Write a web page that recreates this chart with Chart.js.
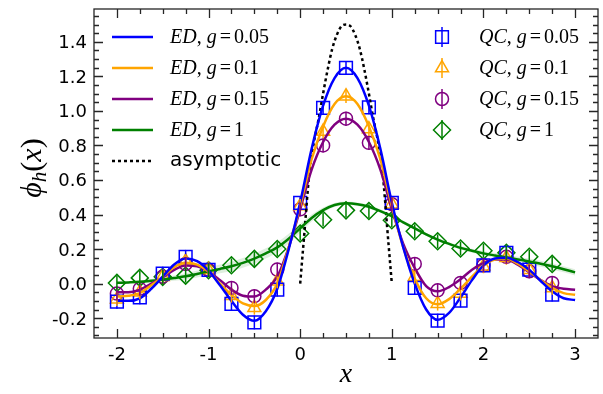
<!DOCTYPE html>
<html>
<head>
<meta charset="utf-8">
<script src="https://cdn.jsdelivr.net/npm/chart.js@4/dist/chart.umd.min.js"></script>
<style>
  html, body { margin: 0; padding: 0; background: #fff; }
  #wrap { width: 603px; height: 394px; }
</style>
</head>
<body>
<div id="wrap"><canvas id="chart" width="603" height="394"></canvas></div>
<script>
// axis ticks
var xTicks = [-2, -1, 0, 1, 2, 3];
var yTicks = [-0.2, 0, 0.2, 0.4, 0.6, 0.8, 1.0, 1.2, 1.4];

// ED curves (sampled every 0.125 from -2 to 3)
var edX = [-2, -1.875, -1.75, -1.625, -1.5, -1.375, -1.25, -1.125, -1, -0.875, -0.75, -0.625, -0.5, -0.375, -0.25, -0.125,
  0, 0.125, 0.25, 0.375, 0.5, 0.625, 0.75, 0.875, 1, 1.125, 1.25, 1.375, 1.5, 1.625, 1.75, 1.875,
  2, 2.125, 2.25, 2.375, 2.5, 2.625, 2.75, 2.875, 3];
var edG005 = [-0.10, -0.10, -0.085, -0.03, 0.04, 0.11, 0.145, 0.13, 0.075, -0.01, -0.10, -0.18, -0.215, -0.16, -0.03, 0.20,
  0.47, 0.78, 1.03, 1.19, 1.25, 1.19, 1.03, 0.78, 0.47, 0.21, 0.0, -0.15, -0.21, -0.17, -0.08, 0.02,
  0.105, 0.145, 0.15, 0.125, 0.08, 0.015, -0.045, -0.085, -0.095];
var edG01 = [-0.075, -0.07, -0.055, -0.01, 0.04, 0.095, 0.12, 0.11, 0.07, 0.0, -0.065, -0.115, -0.13, -0.095, 0.0, 0.21,
  0.45, 0.72, 0.91, 1.04, 1.085, 1.04, 0.91, 0.72, 0.45, 0.21, 0.03, -0.085, -0.12, -0.09, -0.03, 0.04,
  0.105, 0.14, 0.145, 0.115, 0.07, 0.02, -0.025, -0.055, -0.065];
var edG015 = [-0.05, -0.05, -0.035, 0.0, 0.035, 0.08, 0.105, 0.10, 0.07, 0.02, -0.035, -0.07, -0.075, -0.035, 0.04, 0.21,
  0.43, 0.66, 0.82, 0.92, 0.955, 0.92, 0.82, 0.66, 0.43, 0.23, 0.09, -0.015, -0.045, -0.02, 0.025, 0.08,
  0.12, 0.14, 0.14, 0.11, 0.065, 0.02, -0.015, -0.03, -0.035];
var edG1 = [0.005, 0.007, 0.01, 0.016, 0.023, 0.032, 0.042, 0.056, 0.071, 0.085, 0.10, 0.12, 0.145, 0.175, 0.21, 0.26,
  0.32, 0.38, 0.425, 0.455, 0.465, 0.46, 0.445, 0.42, 0.39, 0.355, 0.32, 0.285, 0.255, 0.23, 0.207, 0.19,
  0.175, 0.163, 0.152, 0.14, 0.128, 0.115, 0.10, 0.083, 0.065];
// half width of the pale band around the g=1 curve
var edG1Band = [0.005, 0.005, 0.008, 0.01, 0.012, 0.015, 0.018, 0.02, 0.022, 0.025, 0.027, 0.028, 0.03, 0.03, 0.03, 0.028,
  0.025, 0.02, 0.015, 0.012, 0.01, 0.01, 0.01, 0.01, 0.01, 0.01, 0.01, 0.01, 0.01, 0.01, 0.01, 0.012,
  0.012, 0.014, 0.015, 0.016, 0.017, 0.018, 0.018, 0.018, 0.018];

// asymptotic curve
var asyX = [0, 0.025, 0.05, 0.075, 0.1, 0.15, 0.2, 0.25, 0.3, 0.35, 0.4, 0.45, 0.5,
  0.55, 0.6, 0.65, 0.7, 0.75, 0.8, 0.85, 0.9, 0.925, 0.95, 0.975, 1];
var asyY = [0, 0.16, 0.32, 0.49, 0.64, 0.82, 0.95, 1.10, 1.24, 1.36, 1.44, 1.49, 1.50,
  1.49, 1.44, 1.36, 1.24, 1.10, 0.95, 0.82, 0.64, 0.49, 0.32, 0.16, 0];

// QC points
var qcX = [-2, -1.75, -1.5, -1.25, -1, -0.75, -0.5, -0.25, 0, 0.25, 0.5, 0.75, 1, 1.25, 1.5, 1.75, 2, 2.25, 2.5, 2.75];
var qcG005 = [-0.105, -0.08, 0.058, 0.155, 0.08, -0.118, -0.225, -0.035, 0.467, 1.017, 1.249, 1.021, 0.467, -0.025, -0.214, -0.098, 0.106, 0.178, 0.081, -0.064];
var qcG01 = [-0.09, -0.05, 0.04, 0.13, 0.08, -0.07, -0.14, 0.013, 0.45, 0.88, 1.085, 0.895, 0.46, 0.04, -0.116, -0.058, 0.10, 0.149, 0.08, -0.025];
var qcG015 = [-0.058, -0.03, 0.04, 0.114, 0.08, -0.025, -0.073, 0.081, 0.43, 0.80, 0.955, 0.815, 0.46, 0.114, -0.039, 0.004, 0.106, 0.155, 0.071, 0.004];
var qcG1 = [0.004, 0.033, 0.039, 0.046, 0.077, 0.106, 0.143, 0.20, 0.29, 0.37, 0.424, 0.42, 0.367, 0.303, 0.245, 0.203, 0.19, 0.178, 0.155, 0.114];
var qcErr = 0.04;

var BLUE = '#0000ff', ORANGE = '#ffa500', PURPLE = '#800080', GREEN = '#008000';

var pts = (xs, ys) => xs.map((x, i) => ({x: x, y: ys[i]}));

var edLine = (label, ys, color) => ({
  label: label, data: pts(edX, ys), showLine: true, pointRadius: 0,
  borderColor: color, borderWidth: 2.5, cubicInterpolationMode: 'monotone', fill: false
});
var qcSet = (label, ys, color, style, r) => ({
  label: label, data: pts(qcX, ys), showLine: false, pointStyle: style, pointRadius: r,
  pointBorderWidth: 1.5, borderColor: color, backgroundColor: 'rgba(0,0,0,0)', qc: true
});

var datasets = [
  edLine('ED g=0.05', edG005, BLUE),
  edLine('ED g=0.1', edG01, ORANGE),
  edLine('ED g=0.15', edG015, PURPLE),
  edLine('ED g=1', edG1, GREEN),
  {label: 'asymptotic', data: pts(asyX, asyY), showLine: true, pointRadius: 0, borderColor: '#000',
   borderWidth: 2.5, borderDash: [3, 3], borderCapStyle: 'butt', cubicInterpolationMode: 'monotone', fill: false},
  qcSet('QC g=0.05', qcG005, BLUE, 'rect', 9),
  qcSet('QC g=0.1', qcG01, ORANGE, 'triangle', 7.5),
  qcSet('QC g=0.15', qcG015, PURPLE, 'circle', 6.5),
  qcSet('QC g=1', qcG1, GREEN, 'rectRot', 8.5),
  {label: 'band lo', data: pts(edX, edG1.map((v, i) => v - edG1Band[i])), showLine: true, pointRadius: 0,
   borderWidth: 0, borderColor: 'rgba(0,0,0,0)', cubicInterpolationMode: 'monotone', fill: false},
  {label: 'band hi', data: pts(edX, edG1.map((v, i) => v + edG1Band[i])), showLine: true, pointRadius: 0,
   borderWidth: 0, borderColor: 'rgba(0,0,0,0)', backgroundColor: 'rgba(0,128,0,0.13)',
   cubicInterpolationMode: 'monotone', fill: '-1'}
];

var SERIF = '"Liberation Serif", "Times New Roman", serif';
var SANS = '"DejaVu Sans", sans-serif';

// draw a run of text pieces: [text, italic, size, dy]
function drawRun(ctx, x, y, parts) {
  parts.forEach(p => {
    if (p.gap) { x += p.gap; return; }
    ctx.font = (p[1] ? 'italic ' : '') + p[2] + 'px ' + SERIF;
    ctx.fillText(p[0], x, y + (p[3] || 0));
    x += ctx.measureText(p[0]).width;
  });
  return x;
}
function runWidth(ctx, parts) {
  var w = 0;
  parts.forEach(p => {
    if (p.gap) { w += p.gap; return; }
    ctx.font = (p[1] ? 'italic ' : '') + p[2] + 'px ' + SERIF;
    w += ctx.measureText(p[0]).width;
  });
  return w;
}
function mathLabel(name, g) {
  return [[name, true, 20], [',', false, 20], {gap: 5}, ['g', true, 20], {gap: 3}, ['=', false, 20], {gap: 3}, [g, false, 20]];
}

function drawMarker(ctx, ds, x, y) {
  ctx.save();
  ctx.strokeStyle = ds.borderColor; ctx.fillStyle = 'rgba(0,0,0,0)'; ctx.lineWidth = 1.5;
  Chart.helpers.drawPoint(ctx, {pointStyle: ds.pointStyle, radius: ds.pointRadius, borderWidth: 1.5}, x, y);
  ctx.beginPath(); ctx.moveTo(x, y - 10); ctx.lineTo(x, y + 10); ctx.stroke();
  ctx.restore();
}

var decorPlugin = {
  id: 'decor',
  afterDatasetsDraw(chart) {
    // error bars for QC points
    var ctx = chart.ctx, xs = chart.scales.x, ys = chart.scales.y;
    ctx.save();
    ctx.lineWidth = 1.5;
    chart.data.datasets.forEach(ds => {
      if (!ds.qc) return;
      ctx.strokeStyle = ds.borderColor;
      ds.data.forEach(p => {
        var px = xs.getPixelForValue(p.x);
        ctx.beginPath();
        ctx.moveTo(px, ys.getPixelForValue(p.y - qcErr));
        ctx.lineTo(px, ys.getPixelForValue(p.y + qcErr));
        ctx.stroke();
      });
    });
    ctx.restore();
  },
  afterDraw(chart) {
    var ctx = chart.ctx, a = chart.chartArea, xs = chart.scales.x, ys = chart.scales.y;
    ctx.save();
    ctx.strokeStyle = '#262626';
    ctx.lineWidth = 1.3;
    ctx.strokeRect(a.left, a.top, a.right - a.left, a.bottom - a.top);

    // inward ticks on all four sides
    ctx.beginPath();
    for (var k = -9; k <= 13; k++) {
      var v = k * 0.25, px = Math.round(xs.getPixelForValue(v)) + 0.5;
      if (px <= a.left + 1 || px >= a.right - 1) continue;
      var len = (k % 4 === 0) ? 9 : 5;
      ctx.moveTo(px, a.bottom); ctx.lineTo(px, a.bottom - len);
      ctx.moveTo(px, a.top); ctx.lineTo(px, a.top + len);
    }
    for (var j = -6; j <= 31; j++) {
      var py = Math.round(ys.getPixelForValue(j * 0.05)) + 0.5;
      if (py <= a.top + 1 || py >= a.bottom - 1) continue;
      var l2 = (j % 4 === 0) ? 9 : 5;
      ctx.moveTo(a.left, py); ctx.lineTo(a.left + l2, py);
      ctx.moveTo(a.right, py); ctx.lineTo(a.right - l2, py);
    }
    ctx.stroke();

    // tick labels, placed through the scales
    ctx.fillStyle = '#000';
    ctx.font = '18px ' + SANS;
    ctx.textBaseline = 'alphabetic';
    ctx.textAlign = 'center';
    xTicks.forEach(v => ctx.fillText(String(v), xs.getPixelForValue(v), a.bottom + 21.5));
    ctx.textAlign = 'right';
    yTicks.forEach(v => ctx.fillText(v.toFixed(1), a.left - 7, ys.getPixelForValue(v) + 6.5));
    ctx.textAlign = 'left';

    // axis titles
    var xt = [['x', true, 28]];
    drawRun(ctx, (a.left + a.right) / 2 - runWidth(ctx, xt) / 2, 382, xt);
    var yt = [['\u03d5', true, 30], ['h', true, 21, 5], ['(', false, 30], ['x', true, 30], [')', false, 30]];
    ctx.save();
    ctx.translate(41, 168);
    ctx.rotate(-Math.PI / 2);
    drawRun(ctx, -runWidth(ctx, yt) / 2, 0, yt);
    ctx.restore();

    // legend, left column
    var rows = [37, 68, 99, 130, 161];
    var left = [['0.05', BLUE], ['0.1', ORANGE], ['0.15', PURPLE], ['1', GREEN]];
    ctx.textBaseline = 'middle';
    left.forEach((e, i) => {
      ctx.strokeStyle = e[1]; ctx.lineWidth = 2.5; ctx.setLineDash([]);
      ctx.beginPath(); ctx.moveTo(112, rows[i]); ctx.lineTo(153, rows[i]); ctx.stroke();
      ctx.fillStyle = '#000';
      drawRun(ctx, 170, rows[i] + 1, mathLabel('ED', e[0]));
    });
    ctx.strokeStyle = '#000'; ctx.lineWidth = 2.5; ctx.setLineDash([3, 3]); ctx.lineCap = 'butt';
    ctx.beginPath(); ctx.moveTo(112, rows[4]); ctx.lineTo(153, rows[4]); ctx.stroke();
    ctx.setLineDash([]);
    ctx.font = '20px ' + SANS;
    ctx.fillStyle = '#000';
    ctx.fillText('asymptotic', 170, rows[4]);

    // legend, right column
    var gs = ['0.05', '0.1', '0.15', '1'];
    chart.data.datasets.filter(d => d.qc).forEach((ds, i) => {
      drawMarker(ctx, ds, 442, rows[i]);
      ctx.fillStyle = '#000';
      drawRun(ctx, 479, rows[i] + 1, mathLabel('QC', gs[i]));
    });
    ctx.restore();
  }
};

new Chart(document.getElementById('chart'), {
  type: 'scatter',
  data: {datasets: datasets},
  options: {
    responsive: false,
    animation: false,
    layout: {autoPadding: false, padding: {top: 9, right: 5, left: 0, bottom: 0}},
    plugins: {legend: {display: false}, tooltip: {enabled: false}},
    scales: {
      x: {
        type: 'linear', min: -2.25, max: 3.25,
        grid: {display: false, drawTicks: false}, border: {display: false},
        afterBuildTicks: s => { s.ticks = xTicks.map(v => ({value: v})); },
        afterFit: s => { s.height = 56; },
        ticks: {display: false}
      },
      y: {
        type: 'linear', min: -0.315, max: 1.59,
        grid: {display: false, drawTicks: false}, border: {display: false},
        afterBuildTicks: s => { s.ticks = yTicks.map(v => ({value: v})); },
        afterFit: s => { s.width = 94; },
        ticks: {display: false}
      }
    }
  },
  plugins: [decorPlugin]
});
</script>
</body>
</html>
